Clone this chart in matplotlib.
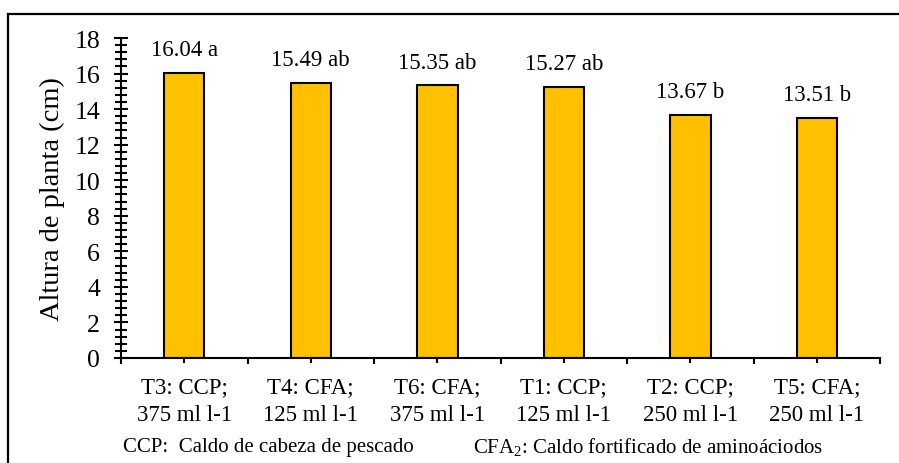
import numpy as np
import matplotlib
matplotlib.use('Agg')
import matplotlib.pyplot as plt
from matplotlib.lines import Line2D
from matplotlib.ticker import MultipleLocator, FixedLocator

# ====================== DATOS ======================
tratamientos = ['T3: CCP;\n375 ml l-1', 'T4: CFA;\n125 ml l-1', 'T6: CFA;\n375 ml l-1',
                'T1: CCP;\n125 ml l-1', 'T2: CCP;\n250 ml l-1', 'T5: CFA;\n250 ml l-1']
altura = [16.04, 15.49, 15.35, 15.27, 13.67, 13.51]
letras = ['a', 'ab', 'ab', 'ab', 'b', 'b']

plt.rcParams['font.family'] = ['Liberation Serif', 'DejaVu Serif']
plt.rcParams['mathtext.fontset'] = 'custom'
plt.rcParams['mathtext.rm'] = 'Liberation Serif'

fig = plt.figure(figsize=(8.99, 4.64), dpi=100)
ax = fig.add_axes([0.1346, 0.2263, 0.8443, 0.6896])

x = np.arange(len(altura))
barras = ax.bar(x, altura, width=0.32, color='#FFC000', edgecolor='black', linewidth=1.5, zorder=2)

for xi, v, l in zip(x, altura, letras):
    ax.annotate(f'{v:.2f} {l}', (xi, v), xytext=(0, 9), textcoords='offset points',
                ha='center', va='bottom', fontsize=16.5)

ax.set_xlim(-0.5, len(altura) - 0.5)
ax.set_ylim(0, 18)
ax.yaxis.set_major_locator(MultipleLocator(2))
ax.yaxis.set_minor_locator(MultipleLocator(0.4))
ax.xaxis.set_major_locator(FixedLocator(x))
ax.xaxis.set_minor_locator(FixedLocator(np.arange(len(altura) + 1) - 0.5))
ax.set_xticklabels(tratamientos, linespacing=1.45)

ax.tick_params(axis='y', which='major', direction='inout', length=10, width=1.5, labelsize=18.5, pad=10)
ax.tick_params(axis='y', which='minor', direction='inout', length=8, width=1.5)
ax.tick_params(axis='x', which='major', direction='inout', length=7.5, width=1.5, labelsize=16.5, pad=9)
ax.tick_params(axis='x', which='minor', direction='out', length=4.5, width=1.5)

for s in ['top', 'right']:
    ax.spines[s].set_visible(False)
for s in ['left', 'bottom']:
    ax.spines[s].set_linewidth(1.5)

ax.set_ylabel('Altura de planta (cm)', fontsize=20.5, labelpad=7)

# Notas al pie
fig.text(123/899, 1 - 448/464, 'CCP:  Caldo de cabeza de pescado', fontsize=15, va='center', ha='left')
fig.text(473/899, 1 - 448/464, r'CFA$_\mathrm{2}$: Caldo fortificado de aminoáciodos', fontsize=15, va='center', ha='left')

# Marco (solo borde superior e izquierdo visibles)
fig.add_artist(Line2D([8/899, 1.0], [1 - 14.5/464, 1 - 14.5/464], color='black', lw=1.6, transform=fig.transFigure))
fig.add_artist(Line2D([8/899, 8/899], [0, 1 - 14.5/464], color='black', lw=1.6, transform=fig.transFigure))

fig.savefig('out.png', dpi=100)
